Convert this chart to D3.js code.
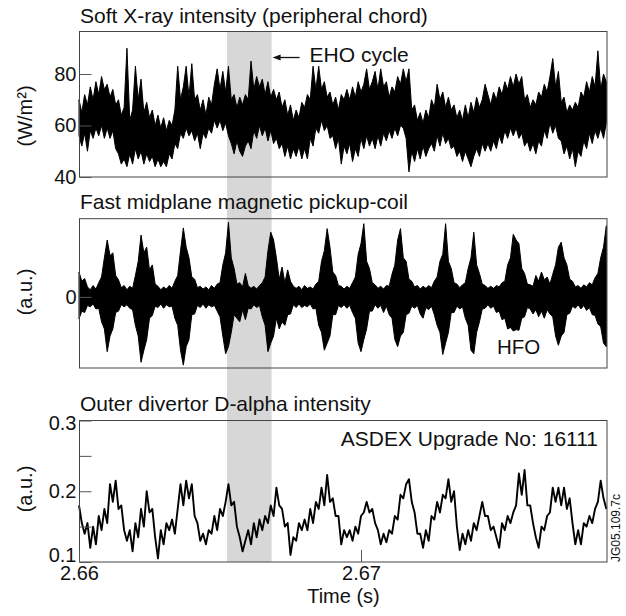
<!DOCTYPE html>
<html>
<head>
<meta charset="utf-8">
<script src="https://cdn.jsdelivr.net/npm/d3@7"></script>
<style>
body { margin: 0; background: #fff; }
text { font-family: "Liberation Sans", Arial, Helvetica, sans-serif; fill: #111; }
</style>
</head>
<body>
<div id="chart"></div>
<script>
const t0 = 2.66, dt = 0.0001;

// soft X-ray, peripheral chord (W/m2): min / max of the noisy trace per sample
const soxrUpper = [70,65,72,68,75,70,77,72,79,74, 76,71,74,68,70,64,67,90,62,66,
  83,70,78,65,69,63,66,60,64,59, 63,58,62,60,66,83,70,75,83,71,
  84,70,72,66,70,64,71,68,76,82, 74,81,73,83,70,72,67,71,68,72,
  70,85,74,79,75,78,72,77,71,74, 70,73,67,70,64,68,62,66,63,69,
  67,72,70,83,74,83,74,77,71,73, 68,71,66,72,70,
  74,70,75,71,77,73,76,82,74,77, 81,74,82,75,77,71,75,73,79,76,
  82,77,82,66,68,62,65,61,66,63, 70,67,76,70,73,67,71,66,68,63,
  66,62,68,63,69,65,71,67,70,76, 72,68,73,70,75,72,77,74,79,75,
  80,76,79,70,72,67,70,68,73,71, 76,73,79,86,75,81,69,71,65,68,
  66,69,67,73,71,77,73,79,75,89, 74,80,77];
const soxrLower = [56,52,57,50,58,55,59,56,60,55, 59,55,58,51,49,45,47,44,49,45,
  51,47,50,45,49,46,48,44,47,44, 46,44,49,47,53,51,57,55,59,56,
  58,54,57,51,57,55,59,57,62,59, 62,58,61,56,53,49,54,50,48,52,
  54,51,58,55,60,56,59,54,58,53, 55,51,53,48,52,47,51,48,52,47,
  51,47,55,52,59,57,62,58,60,55, 56,51,55,45,52,
  49,53,46,51,48,55,51,56,52,55, 51,56,52,57,54,58,55,59,56,60,
  59,55,42,50,46,51,47,52,48,51, 53,50,56,52,57,53,55,51,52,48,
  50,46,50,47,44,48,51,48,53,50, 53,50,54,51,56,53,58,55,59,56,
  59,55,57,52,54,50,53,49,54,52, 58,55,61,57,60,55,54,49,52,47,
  51,44,50,48,54,51,57,53,58,55, 59,55,61];

// fast midplane pickup coil (a.u.): envelope of the high-frequency oscillation
const hfoUpper = [0.35,0.22,0.26,0.14, 0.1,0.16,0.11,0.2,
  0.28,0.55,0.8,0.58,0.62,0.3,0.24,0.13, 0.16,0.1,0.15,0.12,
  0.3,0.5,0.87,0.62,0.7,0.38,0.45,0.18, 0.15,0.1,0.14,0.11,0.16,0.12,
  0.22,0.3,0.65,0.97,0.7,0.55,0.28,0.25,0.13, 0.15,0.11,0.14,0.1,0.16,0.12,0.18,
  0.2,0.45,0.62,1.05,0.55,0.4,0.18,0.2,0.14,0.33,0.16,0.12,0.15,0.11,0.16,
  0.2,0.28,0.65,0.91,0.8,0.55,0.25,0.42,0.2,0.38,0.22,0.15,0.12,
  0.15,0.1,0.16,0.12,0.14,0.11,0.18,
  0.22,0.5,0.65,0.96,0.7,0.35,0.3,0.16,0.15, 0.11,0.15,0.12,0.2,
  0.28,0.6,0.75,1.03,0.5,0.4,0.2,0.17, 0.12,0.15,0.11,0.16,0.15,
  0.32,0.45,0.8,0.96,0.55,0.5,0.25,0.22,0.14, 0.16,0.11,0.15,0.12,0.16,0.13,0.22,
  0.28,0.5,0.6,1.03,0.5,0.4,0.2,0.18, 0.13,0.17,0.2,
  0.4,0.55,0.91,0.45,0.33,0.18,0.16, 0.12,0.15,0.12,0.16,0.14,0.2,
  0.22,0.45,0.55,0.88,0.8,0.75,0.4,0.33,0.18,0.17, 0.15,0.3,0.22,0.35,0.24,0.28,0.18,
  0.32,0.45,0.7,0.77,0.55,0.45,0.25,0.22,0.14, 0.16,0.12,0.17,0.14,0.2,0.17,0.27,
  0.33,0.55,0.7,1.0];
const hfoLower = [-0.31,-0.2,-0.22,-0.12, -0.14,-0.1,-0.17,-0.16,
  -0.35,-0.45,-0.77,-0.55,-0.45,-0.22,-0.2,-0.11, -0.14,-0.11,-0.16,-0.18,
  -0.4,-0.55,-0.92,-0.75,-0.6,-0.3,-0.26,-0.13, -0.15,-0.1,-0.16,-0.11,-0.14,-0.13,
  -0.3,-0.4,-0.75,-0.96,-0.7,-0.6,-0.25,-0.24,-0.12, -0.15,-0.1,-0.16,-0.11,-0.14,-0.12,-0.2,
  -0.28,-0.55,-0.8,-0.7,-0.5,-0.25,-0.3,-0.35,-0.18,-0.32,-0.16,-0.17,-0.11,-0.15,-0.12,
  -0.28,-0.4,-0.77,-0.65,-0.55,-0.3,-0.45,-0.35,-0.4,-0.25,-0.24,-0.11,-0.15,
  -0.1,-0.15,-0.12,-0.14,-0.1,-0.17,-0.16,
  -0.4,-0.5,-0.75,-0.65,-0.55,-0.25,-0.25,-0.12,-0.15, -0.11,-0.16,-0.12,-0.22,
  -0.3,-0.65,-0.77,-0.6,-0.45,-0.2,-0.2,-0.11, -0.16,-0.12,-0.22,-0.13,-0.25,
  -0.3,-0.6,-0.7,-0.55,-0.5,-0.25,-0.23,-0.13,-0.16, -0.12,-0.24,-0.3,-0.15,-0.18,-0.13,-0.25,
  -0.4,-0.5,-0.81,-0.65,-0.5,-0.22,-0.22,-0.13, -0.17,-0.14,-0.3,
  -0.4,-0.75,-0.8,-0.5,-0.35,-0.17,-0.16, -0.11,-0.16,-0.13,-0.22,-0.2,-0.32,
  -0.3,-0.45,-0.43,-0.48,-0.46,-0.47,-0.3,-0.28,-0.15,-0.17, -0.24,-0.18,-0.28,-0.2,-0.3,-0.18,-0.24,
  -0.28,-0.55,-0.68,-0.55,-0.5,-0.25,-0.23,-0.13,-0.16, -0.11,-0.17,-0.12,-0.19,-0.15,-0.25,-0.26,
  -0.38,-0.42,-0.65,-0.7];

// outer divertor D-alpha intensity (a.u.)
const dalpha = [0.18,0.155,0.14,0.155,0.12,0.15,0.125,0.165,0.145,0.175,
  0.155,0.21,0.185,0.215,0.175,0.18,0.145,0.13,0.145,0.115,
  0.155,0.135,0.175,0.15,0.2,0.17,0.175,0.135,0.105,0.145,
  0.125,0.155,0.145,0.16,0.14,0.175,0.21,0.18,0.215,0.19,
  0.21,0.165,0.155,0.13,0.14,0.125,0.145,0.14,0.165,0.145,
  0.175,0.165,0.185,0.21,0.18,0.185,0.15,0.135,0.115,0.13,
  0.145,0.125,0.155,0.135,0.16,0.145,0.165,0.155,0.18,0.165,
  0.205,0.18,0.175,0.15,0.155,0.11,0.135,0.13,0.155,0.145,
  0.16,0.145,0.175,0.155,0.185,0.175,0.205,0.18,0.223,0.185,
  0.19,0.165,0.165,0.125,0.145,
  0.135,0.145,0.13,0.15,0.14,0.165,0.17,0.185,0.17,0.175,
  0.155,0.145,0.125,0.14,0.128,0.145,0.14,0.165,0.16,0.195,
  0.19,0.21,0.217,0.185,0.17,0.14,0.14,0.12,0.145,0.13,
  0.165,0.16,0.185,0.17,0.195,0.19,0.217,0.185,0.2,0.15,
  0.117,0.14,0.125,0.145,0.13,0.155,0.145,0.165,0.185,0.165,
  0.165,0.145,0.15,0.135,0.12,0.155,0.145,0.165,0.155,0.17,
  0.18,0.225,0.195,0.23,0.18,0.18,0.155,0.135,0.12,0.15,
  0.145,0.165,0.17,0.205,0.185,0.205,0.18,0.205,0.175,0.19,
  0.155,0.125,0.145,0.125,0.155,0.15,0.165,0.155,0.175,0.185,
  0.215,0.19,0.175];

const timeTicks = [2.66, 2.67];
const soxrTicks = [40, 60, 80];
const hfoTicks = [0];
const dalphaTicks = [0.1, 0.15, 0.2, 0.25, 0.3];
const dalphaLabels = [0.1, 0.2, 0.3];
const ehoBand = [2.66525, 2.66683];   // shaded EHO cycle

const width = 626, height = 616;
const left = 79, right = 607;

const svg = d3.select("#chart")
  .append("svg")
  .attr("width", width)
  .attr("height", height);

const x = d3.scaleLinear()
  .domain([2.66, 2.66 + (right - left) / 28200])
  .range([left, right]);
const time = i => t0 + i * dt;

const ySoxr = d3.scaleLinear().domain([40, 96.5]).range([177, 31.5]);
const yHfo = d3.scaleLinear().domain([-1, 1.1]).range([368, 218.7]);
const yDa = d3.scaleLinear().domain([0.1, 0.3]).range([562, 420.5]);

// grey band for the EHO cycle, running through all three panels
svg.append("rect")
  .attr("x", x(ehoBand[0]))
  .attr("y", ySoxr.range()[1])
  .attr("width", x(ehoBand[1]) - x(ehoBand[0]))
  .attr("height", yDa.range()[0] - ySoxr.range()[1])
  .attr("fill", "#d7d7d7");

// panel 1: soft X-ray, filled between per-sample min and max
const soxrArea = d3.area()
  .x((d, i) => x(time(i)))
  .y0(d => ySoxr(d[0]))
  .y1(d => ySoxr(d[1]));

svg.append("path")
  .datum(d3.zip(soxrLower, soxrUpper))
  .attr("d", soxrArea)
  .attr("fill", "#000")
  .attr("stroke", "#000")
  .attr("stroke-width", 1)
  .attr("stroke-linejoin", "round");

// panel 2: pickup coil
const hfoArea = d3.area()
  .x((d, i) => x(time(i)))
  .y0(d => yHfo(d[0]))
  .y1(d => yHfo(d[1]));

svg.append("path")
  .datum(d3.zip(hfoLower, hfoUpper))
  .attr("d", hfoArea)
  .attr("fill", "#000")
  .attr("stroke", "#000")
  .attr("stroke-width", 1)
  .attr("stroke-linejoin", "round");

// panel 3: D-alpha
const daLine = d3.line()
  .x((d, i) => x(time(i)))
  .y(d => yDa(d));

svg.append("path")
  .datum(dalpha)
  .attr("d", daLine)
  .attr("fill", "none")
  .attr("stroke", "#000")
  .attr("stroke-width", 1.9)
  .attr("stroke-linejoin", "round");

// frames and axes
function panel(y, ticks, fmt, title, titleY, ylabel, ylabelY) {
  const [y0, y1] = y.range();
  svg.append("rect")
    .attr("x", left + 0.5)
    .attr("y", y1)
    .attr("width", right - left - 0.5)
    .attr("height", y0 - y1)
    .attr("fill", "none")
    .attr("stroke", "#444")
    .attr("stroke-width", 1);

  const axis = svg.append("g")
    .attr("class", "axis")
    .attr("transform", `translate(${left + 0.5},0)`)
    .call(d3.axisLeft(y).tickValues(ticks).tickSize(-12).tickPadding(3).tickFormat(fmt));
  axis.select(".domain").remove();
  axis.selectAll(".tick line").attr("stroke", "#555");
  axis.selectAll(".tick text")
    .attr("font-size", 20)
    .attr("fill", "#111");

  svg.append("text")
    .attr("x", left + 1)
    .attr("y", titleY)
    .attr("font-size", 21)
    .text(title);

  svg.append("text")
    .attr("transform", `translate(25,${ylabelY}) rotate(-90)`)
    .attr("dy", "0.35em")
    .attr("text-anchor", "middle")
    .attr("font-size", 20)
    .text(ylabel);
  return axis;
}

panel(ySoxr, soxrTicks, d => d, "Soft X-ray intensity (peripheral chord)", 23, "(W/m\u00b2)", 116);
panel(yHfo, hfoTicks, d => d, "Fast midplane magnetic pickup-coil", 208.5, "(a.u.)", 292);
const daAxis = panel(yDa, dalphaTicks, d => dalphaLabels.includes(d) ? d3.format(".1f")(d) : "",
  "Outer divertor D-alpha intensity", 410.5, "(a.u.)", 489);
daAxis.selectAll(".tick text").filter(d => d === 0.1).attr("dy", "-0.05em");
daAxis.selectAll(".tick text").filter(d => d === 0.3).attr("dy", "0.45em");

// time axis
const xAxis = svg.append("g")
  .attr("transform", `translate(0,${yDa.range()[0]})`)
  .call(d3.axisBottom(x).tickValues(timeTicks).tickSize(-12).tickPadding(4).tickFormat(d3.format(".2f")));
xAxis.select(".domain").remove();
xAxis.selectAll(".tick line").attr("stroke", "#555");
xAxis.selectAll(".tick text").attr("font-size", 20).attr("fill", "#111");

svg.append("text")
  .attr("x", 343.5)
  .attr("y", 603)
  .attr("text-anchor", "middle")
  .attr("font-size", 20)
  .text("Time (s)");

// annotations
const arrowY = ySoxr(86.4), arrowTip = x(ehoBand[1]) + 1;
svg.append("line")
  .attr("x1", arrowTip + 6).attr("x2", arrowTip + 27)
  .attr("y1", arrowY).attr("y2", arrowY)
  .attr("stroke", "#111").attr("stroke-width", 1.3);
svg.append("path")
  .attr("d", `M${arrowTip},${arrowY}L${arrowTip + 8},${arrowY - 3}L${arrowTip + 8},${arrowY + 3}Z`)
  .attr("fill", "#111");
svg.append("text")
  .attr("x", arrowTip + 37)
  .attr("y", arrowY + 4.5)
  .attr("font-size", 21)
  .text("EHO cycle");

svg.append("text")
  .attr("x", 497)
  .attr("y", 354)
  .attr("font-size", 20.5)
  .text("HFO");

svg.append("text")
  .attr("x", 598)
  .attr("y", 445.5)
  .attr("text-anchor", "end")
  .attr("font-size", 21)
  .text("ASDEX Upgrade No: 16111");

svg.append("text")
  .attr("transform", "translate(620,562) rotate(-90)")
  .attr("font-size", 12)
  .text("JG05.109.7c");
</script>
</body>
</html>
